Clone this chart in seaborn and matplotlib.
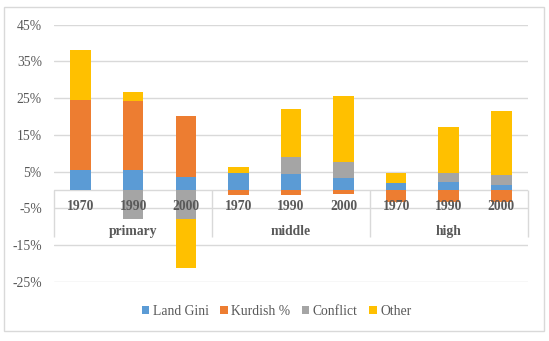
import numpy as np
import matplotlib
matplotlib.use("Agg")
import matplotlib.pyplot as plt
from matplotlib.patches import Patch, Rectangle
import seaborn as sns

# data (percent)
groups = ["primary", "middle", "high"]
years = ["1970", "1990", "2000"]
land_gini = [5.4, 5.4, 3.6, 4.7, 4.4, 3.3, 2.0, 2.1, 1.4]
kurdish = [19.1, 18.7, 16.4, -1.3, -1.4, -1.0, -3.2, -3.2, -3.2]
conflict = [0.0, -7.9, -7.9, 0.0, 4.6, 4.3, 0.0, 2.5, 2.6]
other = [13.5, 2.6, -13.5, 1.6, 13.0, 18.0, 2.6, 12.5, 17.6]
yticks = [-25, -15, -5, 5, 15, 25, 35, 45]

series = {"Land Gini": land_gini, "Kurdish %": kurdish,
          "Conflict": conflict, "Other": other}
colors = ["#5B9BD5", "#ED7D31", "#A5A5A5", "#FFC000"]

sns.set_theme(style="white")
plt.rcParams["font.family"] = ["Liberation Serif", "DejaVu Serif"]
text_color = "#595959"
grid_color = "#D9D9D9"
fs = 9.8

fig = plt.figure(figsize=(5.49, 3.41), dpi=100)
ax = fig.add_axes([0.099, 0.174, 0.862, 0.7536])

cats = [f"{g} {y}" for g in groups for y in years]
pos_base = np.zeros(len(cats))
neg_base = np.zeros(len(cats))
for (name, vals), col in zip(series.items(), colors):
    vals = np.array(vals)
    bottom = np.where(vals >= 0, pos_base, neg_base)
    sns.barplot(x=cats, y=vals, order=cats, bottom=bottom, color=col,
                saturation=1, width=0.39, errorbar=None, ax=ax, zorder=3,
                linewidth=0)
    pos_base = pos_base + np.clip(vals, 0, None)
    neg_base = neg_base + np.clip(vals, None, 0)

ax.set_xlim(-0.5, len(cats) - 0.5)
ax.set_ylim(-25, 45)
ax.set_yticks(yticks)
ax.set_yticklabels([f"{t}%" for t in yticks], fontsize=fs, color=text_color)
ax.tick_params(axis="y", length=0, pad=9)
ax.set_xticks([])
ax.set_xlabel("")
ax.set_ylabel("")
for t in yticks:
    ax.axhline(t, color=grid_color, lw=1, zorder=0)
ax.axhline(0, color=grid_color, lw=1, zorder=1)
for s in ax.spines.values():
    s.set_visible(False)

# multi-level category labels
for i, c in enumerate(cats):
    ax.text(i, -4.6, c.split()[1], ha="center", va="center", fontsize=fs,
            color=text_color, fontweight="bold", zorder=4)
for j, g in enumerate(groups):
    ax.text(j * 3 + 1, -11.3, g, ha="center", va="center", fontsize=fs,
            color=text_color, fontweight="bold", zorder=4)
ax.vlines([-0.5, 2.5, 5.5, 8.5], -12.9, 0, color=grid_color, lw=1, zorder=1,
          clip_on=False)

handles = [Patch(facecolor=c, edgecolor="none", label=n)
           for n, c in zip(series.keys(), colors)]
leg = fig.legend(handles=handles, loc="center", ncol=4,
                 bbox_to_anchor=(0.504, 0.086), frameon=False, fontsize=fs,
                 handlelength=0.55, handleheight=0.55, handletextpad=0.25,
                 columnspacing=0.85)
for t in leg.get_texts():
    t.set_color(text_color)

fig.patches.append(Rectangle((4 / 549, 1 - 331 / 341), 540 / 549, 324 / 341,
                             transform=fig.transFigure, fill=False,
                             edgecolor=grid_color, lw=1))

fig.savefig("out.png", dpi=100)
